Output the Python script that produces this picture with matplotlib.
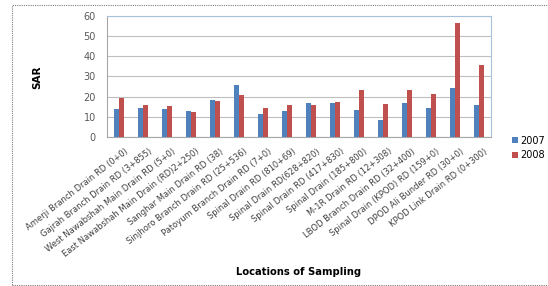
import matplotlib.pyplot as plt
import matplotlib.transforms as mtransforms
import numpy as np

locations = [
    "Amerji Branch Drain RD (0+0)",
    "Gajrah Branch Drain RD (3+855)",
    "West Nawabshah Main Drain RD (5+0)",
    "East Nawabshah Main Drain (RD)2+250)",
    "Sanghar Main Drain RD (38)",
    "Sinjhoro Branch Drain RD (25+536)",
    "Patoyum Branch Drain RD (7+0)",
    "Spinal Drain RD (810+69)",
    "Spinal Drain RD(628+820)",
    "Spinal Drain RD (417+830)",
    "Spinal Drain (185+800)",
    "M-1R Drain RD (12+308)",
    "LBOD Branch Drain RD (32+400)",
    "Spinal Drain (KPOD) RD (159+0)",
    "DPOD Ali Bunder RD (30+0)",
    "KPOD Link Drain RD (0+300)",
]
sar_2007 = [13.8, 14.6, 14.1, 13.1, 18.1, 25.9, 11.3, 12.9, 17.1, 16.9, 13.6, 8.5, 16.9, 14.4, 24.2, 16.1]
sar_2008 = [19.1, 16.1, 15.4, 12.6, 17.7, 20.9, 14.3, 16.1, 15.8, 17.6, 23.2, 16.6, 23.2, 21.4, 56.4, 35.5]

fig = plt.figure(figsize=(5.48, 2.86), dpi=100)
ax = fig.add_axes([107/548, 1 - 137/286, 384/548, 121/286])

x = np.arange(len(locations))
w = 0.22
ax.bar(x - w/2, sar_2007, w, color='#4F81BD', label='2007', zorder=3)
ax.bar(x + w/2, sar_2008, w, color='#C0504D', label='2008', zorder=3)

ax.set_xlim(-0.5, len(locations) - 0.5)
ax.set_ylim(0, 60)
ax.set_yticks(range(0, 61, 10))
ax.yaxis.grid(True, color='#BFBFBF', linewidth=0.8, zorder=0)
ax.tick_params(axis='y', labelsize=7, colors='#595959', length=0, pad=8)
ax.tick_params(axis='x', length=0, pad=7)
ax.set_xticks(x)
ax.set_xticklabels(locations, rotation=38, ha='right', rotation_mode='anchor',
                   fontsize=6, color='#404040')
# shift the labels a little to the right, like the original
shift = mtransforms.ScaledTranslation(5/100, 0, fig.dpi_scale_trans)
for lbl in ax.get_xticklabels():
    lbl.set_transform(lbl.get_transform() + shift)

for s in ['top', 'right']:
    ax.spines[s].set_color('#A7C0DE')
    ax.spines[s].set_linewidth(0.8)
for s in ['left', 'bottom']:
    ax.spines[s].set_color('#A6A6A6')
    ax.spines[s].set_linewidth(0.8)

fig.text(37/548, 1 - 77/286, 'SAR', rotation=90, ha='center', va='center',
         fontsize=7.5, fontweight='bold')
fig.text(299/548, 1 - 272/286, 'Locations of Sampling', ha='center', va='center',
         fontsize=7.2, fontweight='bold')

fig.legend(loc='center left', bbox_to_anchor=(508/548, 1 - 148/286), frameon=False,
           fontsize=7, handlelength=0.6, handleheight=0.6, handletextpad=0.3,
           labelspacing=0.5, borderaxespad=0)

# outer chart border
border = plt.Rectangle((12/548, 0.005), 1, 1 - 5/286 - 0.005, transform=fig.transFigure,
                       fill=False, edgecolor='#7F7F7F', linewidth=0.8, linestyle=(0, (1, 1)))
fig.patches.append(border)

fig.savefig('out.png', dpi=100)
